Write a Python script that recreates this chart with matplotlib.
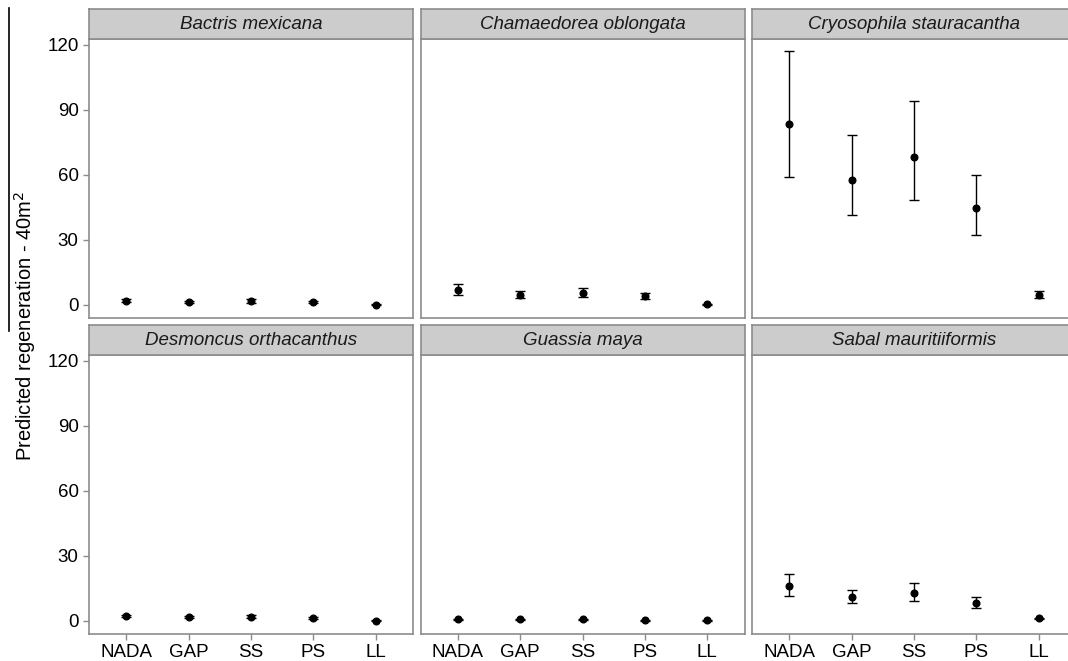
import matplotlib
matplotlib.use("Agg")
import matplotlib.pyplot as plt
from matplotlib.lines import Line2D
import numpy as np

plt.rcParams["font.family"] = ["Liberation Sans", "DejaVu Sans"]

# categorias de tratamento
tratamentos = ["NADA", "GAP", "SS", "PS", "LL"]
especies = ["Bactris mexicana", "Chamaedorea oblongata", "Cryosophila stauracantha",
            "Desmoncus orthacanthus", "Guassia maya", "Sabal mauritiiformis"]

# valores previstos e intervalos
bactris = [2.0, 1.3, 1.8, 1.2, 0.0]
bactris_lo = [1.2, 0.7, 1.1, 0.7, -0.2]
bactris_hi = [2.8, 1.9, 2.5, 1.7, 0.2]

chamaedorea = [7.0, 4.7, 5.7, 4.0, 0.3]
chamaedorea_lo = [4.6, 3.2, 3.8, 2.6, 0.1]
chamaedorea_hi = [9.7, 6.6, 7.8, 5.4, 0.5]

cryosophila = [83.3, 57.6, 68.2, 44.6, 4.5]
cryosophila_lo = [59.0, 41.6, 48.4, 32.4, 3.1]
cryosophila_hi = [117.0, 78.2, 93.9, 59.9, 6.6]

desmoncus = [2.3, 1.7, 2.0, 1.2, 0.1]
desmoncus_lo = [1.8, 1.2, 1.5, 0.8, 0.0]
desmoncus_hi = [2.8, 2.2, 2.5, 1.6, 0.2]

guassia = [0.8, 0.8, 0.8, 0.2, 0.2]
guassia_lo = [0.6, 0.6, 0.6, 0.1, 0.1]
guassia_hi = [1.0, 1.0, 1.0, 0.3, 0.3]

sabal = [15.9, 10.9, 12.7, 8.3, 1.2]
sabal_lo = [11.4, 8.1, 9.3, 5.8, 0.9]
sabal_hi = [21.6, 14.4, 17.6, 11.2, 1.5]

medias = [bactris, chamaedorea, cryosophila, desmoncus, guassia, sabal]
inferiores = [bactris_lo, chamaedorea_lo, cryosophila_lo, desmoncus_lo, guassia_lo, sabal_lo]
superiores = [bactris_hi, chamaedorea_hi, cryosophila_hi, desmoncus_hi, guassia_hi, sabal_hi]

W, H = 1068, 661
fig = plt.figure(figsize=(W / 100, H / 100), dpi=100)

cinza = "#8c8c8c"
x_esq = [89, 420.5, 752]
larg = 324
topo_painel = [39, 355]
alt = 278.5
alt_strip = 30.5

x = np.arange(1, 6)
for i in range(6):
    lin, col = divmod(i, 3)
    x0 = x_esq[col]
    y0 = topo_painel[lin]
    ax = fig.add_axes([x0 / W, 1 - (y0 + alt) / H, larg / W, alt / H])
    m = np.array(medias[i])
    lo = np.array(inferiores[i])
    hi = np.array(superiores[i])
    ax.errorbar(x, m, yerr=[m - lo, hi - m], fmt="o", color="black", ms=4.8,
                elinewidth=1.0, capsize=3.5, capthick=1.0)
    ax.set_xlim(0.4, 5.6)
    ax.set_ylim(-5.8, 122.6)
    ax.set_yticks([0, 30, 60, 90, 120])
    ax.set_xticks(x)
    ax.set_xticklabels(tratamentos)
    for s in ax.spines.values():
        s.set_color(cinza)
        s.set_linewidth(1.2)
    ax.tick_params(colors=cinza, labelcolor="black", labelsize=13.5, length=4, width=1)
    if col != 0:
        ax.tick_params(axis="y", left=False, labelleft=False)
    if lin == 0:
        ax.tick_params(axis="x", bottom=False, labelbottom=False)

    # faixa do titulo do painel
    st = fig.add_axes([x0 / W, 1 - y0 / H, larg / W, alt_strip / H])
    st.set_facecolor("#cccccc")
    st.set_xticks([])
    st.set_yticks([])
    for s in st.spines.values():
        s.set_color(cinza)
        s.set_linewidth(1.2)
    st.text(0.5, 0.47, especies[i], ha="center", va="center", fontsize=13.5,
            style="italic", color="#1a1a1a", transform=st.transAxes)

fig.text(25 / W, 1 - 326 / H, "Predicted regeneration - 40m$^2$", rotation=90,
         ha="center", va="center", fontsize=14.5)
fig.add_artist(Line2D([9 / W, 9 / W], [1 - 8 / H, 1 - 331 / H], color="black", lw=1.2))

fig.savefig("out.png", dpi=100)
